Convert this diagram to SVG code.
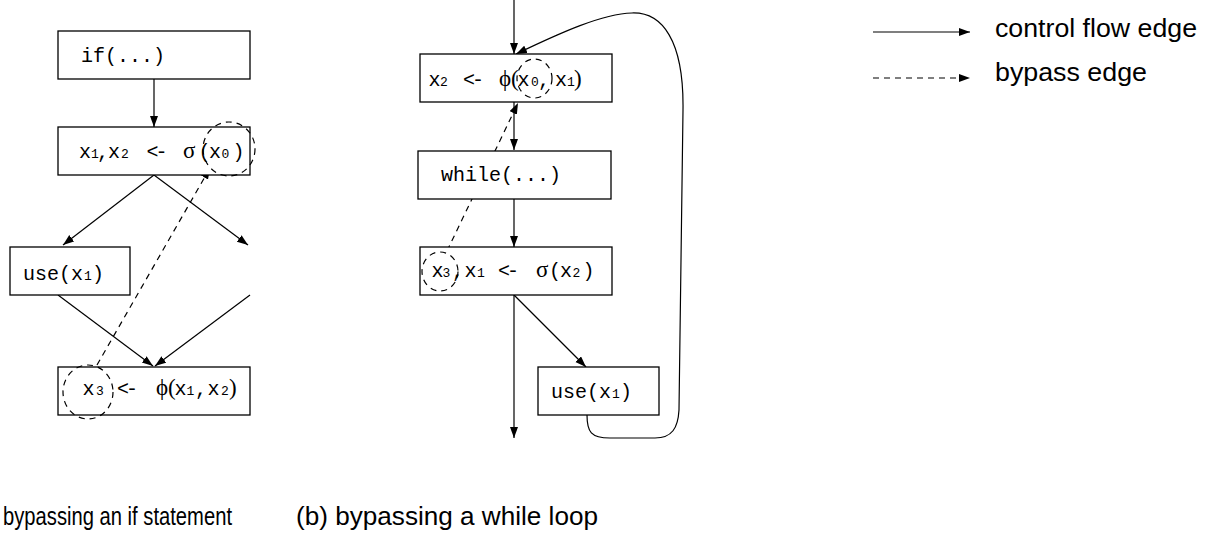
<svg xmlns="http://www.w3.org/2000/svg" width="1212" height="543" viewBox="0 0 1212 543">
<defs>
<style>
.box{fill:#fff;stroke:#000;stroke-width:1.3}
.e{fill:none;stroke:#000;stroke-width:1.2}
.d{fill:none;stroke:#000;stroke-width:1.2;stroke-dasharray:6,5}
.m{font-family:"Liberation Mono","Courier New",monospace;font-size:20px;fill:#000}
.s{font-size:13px}
.g{font-family:"Liberation Serif","Times New Roman",serif;font-size:23px}
.ar{letter-spacing:-3px}
.cap{font-family:"Liberation Sans",Arial,sans-serif;font-size:26px;fill:#000}
</style>
<marker id="arr" markerWidth="12" markerHeight="10" refX="11" refY="4" orient="auto" markerUnits="userSpaceOnUse"><path d="M0,0 L11,4 L0,8 z" fill="#000"/></marker>
</defs>

<g id="connectors">
<!-- panel a -->
<line class="e" x1="154" y1="79" x2="154" y2="127" marker-end="url(#arr)"/>
<line class="e" x1="154" y1="175" x2="63" y2="245" marker-end="url(#arr)"/>
<line class="e" x1="154" y1="175" x2="248" y2="245" marker-end="url(#arr)"/>
<line class="e" x1="58" y1="295" x2="153" y2="366" marker-end="url(#arr)"/>
<line class="e" x1="250" y1="295" x2="155" y2="366" marker-end="url(#arr)"/>
<line class="d" x1="97" y1="365" x2="210" y2="168" marker-end="url(#arr)"/>
<!-- panel b -->
<line class="e" x1="514" y1="0" x2="514" y2="54" marker-end="url(#arr)"/>
<line class="e" x1="514" y1="102" x2="514" y2="150" marker-end="url(#arr)"/>
<line class="e" x1="514" y1="199" x2="514" y2="247" marker-end="url(#arr)"/>
<line class="e" x1="514" y1="295" x2="514" y2="438" marker-end="url(#arr)"/>
<line class="e" x1="514" y1="295" x2="586" y2="367" marker-end="url(#arr)"/>
<path class="e" d="M587,415 C587,432 591,438 610,438 L655,438 C672,438 678,428 679,410 L683,110 C684,40 662,12 632,13 C602,14 562,32 516,54" marker-end="url(#arr)"/>
<line class="d" x1="447" y1="251" x2="518" y2="103" marker-end="url(#arr)"/>
</g>

<g id="node-if">
<rect class="box" x="58" y="31" width="192" height="48"/>
<text class="m" x="81" y="62">if(...)</text>
</g>

<g id="node-sigma-a">
<rect class="box" x="58" y="127" width="192" height="48"/>
<text class="m" y="158"><tspan x="79">x</tspan><tspan class="s" x="91">1</tspan><tspan x="97">,</tspan><tspan x="108">x</tspan><tspan class="s" x="121">2</tspan><tspan class="ar" x="146.5">&lt;-</tspan><tspan class="g" x="183" font-size="24">σ</tspan><tspan x="198.5">(</tspan><tspan x="209">x</tspan><tspan class="s" x="221.5">0</tspan><tspan x="232.5">)</tspan></text>
<ellipse class="d" cx="229" cy="149" rx="26" ry="27"/>
</g>

<g id="node-use-a">
<rect class="box" x="10" y="247" width="120" height="48"/>
<text class="m" y="280"><tspan x="23">use(</tspan><tspan x="71">x</tspan><tspan class="s" x="84">1</tspan><tspan x="92">)</tspan></text>
</g>

<g id="node-phi-a">
<rect class="box" x="58" y="367" width="192" height="48"/>
<text class="m" y="395"><tspan x="82.5">x</tspan><tspan class="s" x="96">3</tspan><tspan class="ar" x="117">&lt;-</tspan><tspan class="g" x="156">ϕ(</tspan><tspan x="174.5">x</tspan><tspan class="s" x="186.5">1</tspan><tspan x="195">,</tspan><tspan x="207.5">x</tspan><tspan class="s" x="221">2</tspan><tspan class="g" x="229">)</tspan></text>
<ellipse class="d" cx="88" cy="392" rx="25" ry="27"/>
</g>

<g id="node-phi-b">
<rect class="box" x="420" y="54" width="192" height="48"/>
<text class="m" y="86"><tspan x="428.5">x</tspan><tspan class="s" x="440">2</tspan><tspan class="ar" x="463">&lt;-</tspan><tspan class="g" x="499">ϕ(</tspan><tspan x="517.5">x</tspan><tspan class="s" x="531">0</tspan><tspan x="538">,</tspan><tspan x="555">x</tspan><tspan class="s" x="567">1</tspan><tspan class="g" x="574">)</tspan></text>
<ellipse class="d" cx="534.5" cy="78.5" rx="17.5" ry="19.5"/>
</g>

<g id="node-while">
<rect class="box" x="418" y="151" width="193" height="48"/>
<text class="m" x="441" y="181">while(...)</text>
</g>

<g id="node-sigma-b">
<rect class="box" x="420" y="247" width="192" height="48"/>
<text class="m" y="277"><tspan x="431.5">x</tspan><tspan class="s" x="442.5">3</tspan><tspan x="452">,</tspan><tspan x="464.5">x</tspan><tspan class="s" x="477">1</tspan><tspan class="ar" x="498">&lt;-</tspan><tspan class="g" x="536" font-size="24">σ</tspan><tspan x="549">(</tspan><tspan x="560">x</tspan><tspan class="s" x="572.5">2</tspan><tspan x="582.5">)</tspan></text>
<ellipse class="d" cx="440" cy="271.5" rx="18" ry="19.5"/>
</g>

<g id="node-use-b">
<rect class="box" x="538" y="367" width="121" height="48"/>
<text class="m" y="398"><tspan x="551">use(</tspan><tspan x="599">x</tspan><tspan class="s" x="612">1</tspan><tspan x="620">)</tspan></text>
</g>

<g id="legend">
<line class="e" x1="873" y1="32" x2="970" y2="32" marker-end="url(#arr)"/>
<text class="cap" x="995" y="37" textLength="202" lengthAdjust="spacingAndGlyphs">control flow edge</text>
<line class="d" x1="873" y1="78" x2="970" y2="78" marker-end="url(#arr)"/>
<text class="cap" x="995" y="81" textLength="152" lengthAdjust="spacingAndGlyphs">bypass edge</text>
</g>

<g id="captions">
<text class="cap" x="3" y="525" font-size="25" textLength="229" lengthAdjust="spacingAndGlyphs">bypassing an if statement</text>
<text class="cap" x="296" y="525" textLength="302" lengthAdjust="spacingAndGlyphs">(b) bypassing a while loop</text>
</g>
</svg>
